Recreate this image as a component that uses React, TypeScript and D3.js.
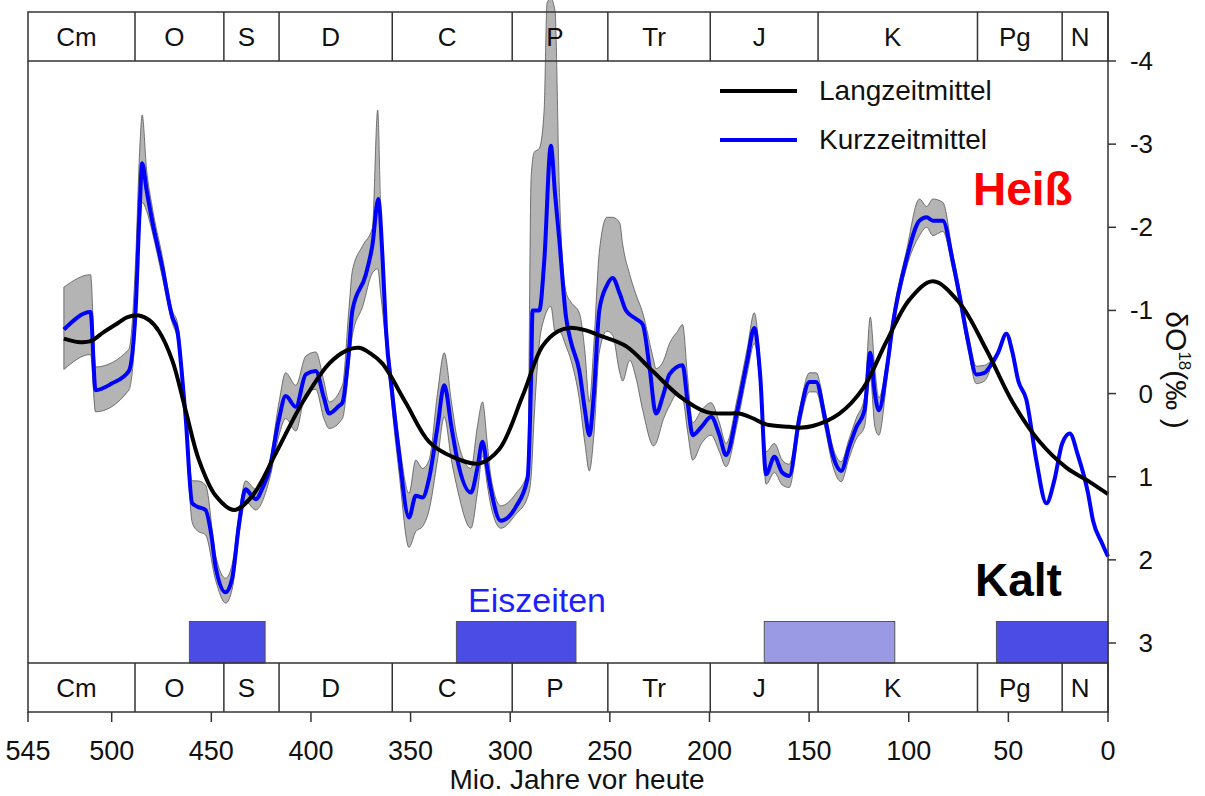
import * as d3 from 'd3';

// geologic periods (start age in Ma, the end is the next start)
const periodNames = ['Cm', 'O', 'S', 'D', 'C', 'P', 'Tr', 'J', 'K', 'Pg', 'N'];
const periodStarts = [542, 488.3, 443.7, 416, 359.2, 299, 251, 199.6, 145.5, 65.5, 23];

const xTicks = [545, 500, 450, 400, 350, 300, 250, 200, 150, 100, 50, 0];
const yTicks = [-4, -3, -2, -1, 0, 1, 2, 3];

// Kurzzeitmittel (blue)
const shortAge = [
  524, 510.6, 508.1, 500, 491.4, 488, 486, 484.7, 482.5, 479.7, 474.6, 469.6, 467, 465, 462.9,
  459.6, 457, 452.9, 450, 447.8, 442.8, 439.5, 436.1, 432.8, 430, 427.7, 424, 421, 416, 412.7,
  407.6, 402.6, 397.6, 393.5, 390.9, 386, 384.2, 381, 379.2, 372.5, 369.2, 366.2, 364, 362.4,
  359.2, 355.8, 350.8, 347.4, 344, 340.7, 336.5, 333.1, 329.5, 326.5, 319.7, 316.5, 313.9, 311.5,
  309.7, 304.7, 297.1, 291.3, 289.5, 288.8, 285.4, 282.9, 279.6, 277.5, 275.4, 272, 269.5, 265.3,
  262.5, 260.3, 258, 255.3, 251.5, 248.6, 245, 241.9, 237, 233.5, 230, 226.9, 223, 220.1, 213.5,
  211, 208.4, 204, 199.2, 195, 191.7, 186, 181, 177.5, 174.5, 171.6, 167.4, 163.5, 160, 154.8,
  149.8, 146.5, 142, 138, 133.9, 130, 126.4, 122.2, 119.3, 117, 115, 111, 108, 101.3, 94.6, 91,
  87.9, 82.9, 78, 74.5, 70, 66.1, 62, 59.4, 55, 51, 48, 45, 41, 36, 30.9, 27, 23, 19.2, 15, 10,
  7.5, 3, 0,
];
const shortMean = [
  -0.77, -0.98, -0.04, -0.12, -0.27, -1.0, -2.2, -2.77, -2.45, -2.08, -1.52, -0.92, -0.75, -0.3, 0.28,
  1.32, 1.36, 1.4, 1.7, 2.09, 2.39, 2.22, 1.57, 1.15, 1.22, 1.27, 1.12, 0.93, 0.3, 0.03,
  0.16, -0.23, -0.27, 0.05, 0.24, 0.15, 0.11, -0.5, -1.0, -1.43, -1.78, -2.34, -1.6, -0.79,
  0, 0.72, 1.49, 1.23, 1.25, 1.02, 0.4, -0.1, 0.4, 0.8, 1.19, 0.9, 0.58, 0.9,
  1.15, 1.53, 1.36, 1.02, -0.2, -1.0, -1.0, -1.6, -2.98, -2.4, -1.86, -0.92, -0.62, -0.27,
  0.2, 0.5, 0.0, -1.0, -1.3, -1.39, -1.2, -1.0, -0.9, -0.83, -0.3, 0.24, 0.0, -0.23, -0.34,
  0.1, 0.5, 0.4, 0.28, 0.5, 0.74, 0.2, -0.4, -0.79, -0.2, 0.97, 0.76, 0.95, 0.99, 0.28,
  -0.14, -0.14, 0.3, 0.75, 0.93, 0.65, 0.41, 0.2, -0.49, 0.0, 0.2, -0.3, -0.83, -1.6, -2.08, -2.12,
  -2.08, -2.08, -1.6, -1.18, -0.6, -0.23, -0.25, -0.32, -0.5, -0.72, -0.5, -0.15, 0.07, 0.8, 1.32, 1.05, 0.6, 0.48, 0.75, 1.2,
  1.53, 1.8, 1.96,
];

// uncertainty band round the short-term mean
const bandAge = [
  524, 510.6, 508.1, 491.4, 488, 486, 484.7, 482.5, 479.7, 474.6, 469.6, 467, 462.9, 459.6, 457,
  452.9, 447.8, 442.8, 439.5, 436.1, 432.8, 427.7, 421, 416, 412.7, 407.6, 402.6, 397.6, 393.5,
  390.9, 384.2, 381, 379.2, 374, 369.2, 366.5, 365, 362.4, 359.2, 355.8, 350.8, 347.4, 344, 340.7,
  336.5, 333.1, 329.5, 326.5, 319.7, 316.5, 313.9, 311.5, 309.7, 304.7, 297.1, 291.3, 289.5, 288,
  285.4, 283, 281.5, 279.6, 277.5, 275.4, 272, 269.5, 265.3, 262.5, 260.3, 258, 255.3, 251.5,
  248.6, 245, 243.6, 240, 237, 233.5, 228, 226.9, 223, 220.1, 216, 213.5, 211, 208.4, 204, 199.2,
  195, 191.7, 186, 181, 177.5, 174.5, 171.6, 167.4, 163.5, 160, 154.8, 149.8, 146.5, 142, 138,
  133.9, 130, 126.4, 122.2, 119.3, 117, 115, 111, 108, 101.3, 94.6, 91, 87.9, 82.9, 78, 74.5, 70,
  66.1, 62, 59.4,
];
const bandUpper = [
  -1.28, -1.43, -0.32, -0.53, -1.6, -2.9, -3.35, -2.7, -2.25, -1.65, -1.0, -0.85, 0.15, 1.05, 1.05,
  1.1, 1.95, 2.22, 2.05, 1.45, 1.05, 1.15, 0.85, 0.1, -0.25, -0.1, -0.45, -0.5, -0.15,
  0.1, -0.1, -1.0, -1.48, -1.78, -1.99, -3.41, -2.2, -0.95, -0.15, 0.55, 1.2, 0.8, 0.9, 0.8,
  0.0, -0.49, 0.1, 0.55, 0.9, 0.4, 0.1, 0.6, 1.0, 1.35, 1.2, 0.95, -2.6, -2.9,
  -2.95, -3.4, -4.7, -4.75, -4.6, -2.5, -1.22, -1.1, -0.97, -0.5, 0.1, -0.6, -1.7, -2.12,
  -2.12, -2.05, -1.8, -1.43, -1.2, -0.97, -0.4, -0.3, -0.4, -0.6, -0.75, -0.83, -0.2, 0.35, 0.2, 0.11,
  0.35, 0.6, 0.05, -0.55, -0.97, -0.35, 0.7, 0.6, 0.8, 0.85, 0.18, -0.25, -0.25, 0.2, 0.65,
  0.82, 0.55, 0.3, 0.05, -0.92, -0.3, 0.05, -0.4, -0.93, -1.7, -2.34, -2.25, -2.34, -2.3, -1.7, -1.27, -0.7,
  -0.33, -0.34, -0.38,
];
const bandLower = [
  -0.29, -0.47, 0.22, -0.04, -0.8, -1.9, -2.3, -2.2, -1.95, -1.4, -0.85, -0.65, 0.4, 1.55, 1.65,
  1.7, 2.25, 2.52, 2.35, 1.7, 1.3, 1.4, 1.05, 0.5, 0.3, 0.45, 0.0, -0.05, 0.3,
  0.42, 0.3, -0.3, -0.7, -1.05, -1.45, -1.5, -1.2, -0.6, 0.2, 0.95, 1.85, 1.66, 1.6, 1.4,
  0.8, 0.28, 0.8, 1.15, 1.62, 1.2, 0.75, 1.1, 1.35, 1.62, 1.45, 1.25, 1.0, 0.3,
  -0.6, -0.9, -1.0, -1.05, -0.75, -0.75, -0.57, -0.4, 0.07, 0.6, 0.93, 0.5, -0.5, -0.75,
  -0.7, -0.25, -0.15, -0.4, -0.2, 0.2, 0.63, 0.6, 0.3, 0.15, 0.0, 0.05, 0.45, 0.8, 0.6, 0.5,
  0.7, 0.88, 0.35, -0.25, -0.6, -0.05, 1.09, 0.95, 1.1, 1.13, 0.4, -0.02, -0.02, 0.42, 0.88,
  1.06, 0.78, 0.55, 0.4, -0.2, 0.4, 0.5, -0.15, -0.72, -1.5, -1.9, -2.0, -1.9, -1.95, -1.5, -1.08, -0.5,
  -0.12, -0.15, -0.27,
];

// Langzeitmittel (black)
const longAge = [
  524, 517, 510.6, 504, 498, 492, 486.3, 481, 476.3, 469.6, 462.9, 456.2, 447.8, 438.6, 429.4,
  417.7, 404.3, 390.9, 382, 375.8, 370, 364.1, 352.4, 340.7, 329, 315.6, 305.5, 293.8, 283.8,
  276, 270.4, 262, 255.3, 241.9, 228.5, 215.1, 201.7, 192, 185, 178, 171.6, 160, 154.8, 148.2,
  134.8, 123, 111.3, 99.6, 87.9, 74.5, 61.1, 47.7, 34.3, 20.9, 10, 0,
];
const longMean = [
  -0.66, -0.62, -0.63, -0.74, -0.83, -0.92, -0.94, -0.88, -0.75, -0.4, 0.2, 0.8, 1.23, 1.4, 1.23,
  0.72, 0.11, -0.36, -0.52, -0.55, -0.48, -0.36, 0.11, 0.58, 0.76, 0.84, 0.67, 0.03, -0.57,
  -0.75, -0.79, -0.76, -0.7, -0.57, -0.27, 0.03, 0.22, 0.24, 0.24, 0.3, 0.37, 0.4, 0.41, 0.39,
  0.24, -0.06, -0.62, -1.13, -1.35, -1.09, -0.53, 0.11, 0.58, 0.89, 1.05, 1.21,
];

// ice ages
const iceStart = [461, 327, 172.5, 56];
const iceEnd = [423, 267, 107, 0];
const iceWeak = [false, false, true, false];

const FONT = '"Liberation Sans", Arial, sans-serif';

export default function App() {
  const left = 28;
  const right = 1108;
  const plotTop = 61;
  const plotBottom = 663;
  const boxH = 49;

  const x = d3.scaleLinear().domain([542, 0]).range([left, right]).clamp(true);
  const y = d3.scaleLinear().domain([-4, 3]).range([plotTop, 643]);

  const shortPts = shortAge.map((a, i) => [a, shortMean[i]] as [number, number]);
  const longPts = longAge.map((a, i) => [a, longMean[i]] as [number, number]);
  const bandPts = bandAge.map((a, i) => ({ a, hi: bandUpper[i], lo: bandLower[i] }));

  const line = d3.line<[number, number]>()
    .x(d => x(d[0]))
    .y(d => y(d[1]))
    .curve(d3.curveMonotoneX);
  const smooth = d3.line<[number, number]>()
    .x(d => x(d[0]))
    .y(d => y(d[1]))
    .curve(d3.curveCatmullRom.alpha(0.5));
  const area = d3.area<{ a: number; hi: number; lo: number }>()
    .x(d => x(d.a))
    .y0(d => y(d.lo))
    .y1(d => y(d.hi))
    .curve(d3.curveMonotoneX);

  const periodEnds = periodStarts.map((_, i) => (i < periodStarts.length - 1 ? periodStarts[i + 1] : 0));

  const strat = (top: number) => (
    <g>
      <rect x={left} y={top} width={right - left} height={boxH} fill="none" stroke="#333" strokeWidth={1.5} />
      {periodNames.map((name, i) => {
        const x0 = x(periodStarts[i]);
        const x1 = x(periodEnds[i]);
        return (
          <g key={name}>
            {i > 0 && <line x1={x0} x2={x0} y1={top} y2={top + boxH} stroke="#333" strokeWidth={1.5} />}
            <text x={(x0 + x1) / 2 - 5} y={top + 34} textAnchor="middle" fontSize={26} fontFamily={FONT} fill="#111">
              {name}
            </text>
          </g>
        );
      })}
    </g>
  );

  return (
    <svg width={1205} height={796} style={{ position: 'absolute', left: 0, top: 0, background: '#fff' }}>
      {/* ice age bars */}
      {iceStart.map((s, i) => (
        <rect
          key={s}
          x={x(s)}
          y={621.5}
          width={x(iceEnd[i]) - x(s)}
          height={plotBottom - 621.5}
          fill={iceWeak[i] ? '#9a9ae4' : '#4b4be6'}
          stroke="#555"
          strokeWidth={1}
        />
      ))}

      {/* the band runs up through the top box at the Permian spike */}
      <path d={area(bandPts) ?? ''} fill="#b4b4b4" stroke="#555" strokeWidth={0.8} />
      <path d={line(shortPts) ?? ''} fill="none" stroke="#0000ff" strokeWidth={4} strokeLinejoin="round" />
      <path d={smooth(longPts) ?? ''} fill="none" stroke="#000" strokeWidth={4} strokeLinejoin="round" />

      {/* frame and period boxes */}
      {strat(12)}
      <line x1={left} x2={left} y1={plotTop} y2={plotBottom} stroke="#333" strokeWidth={1.5} />
      <line x1={right} x2={right} y1={12} y2={712} stroke="#333" strokeWidth={1.5} />
      {strat(plotBottom)}

      {/* x axis */}
      {xTicks.map(t => (
        <g key={t}>
          <line x1={x(t)} x2={x(t)} y1={712} y2={722} stroke="#333" strokeWidth={1.5} />
          <text x={x(t)} y={760} textAnchor="middle" fontSize={27} fontFamily={FONT} fill="#111">{t}</text>
        </g>
      ))}
      <text x={577} y={789} textAnchor="middle" fontSize={28} fontFamily={FONT} fill="#111">Mio. Jahre vor heute</text>

      {/* y axis */}
      {yTicks.map(t => (
        <g key={t}>
          <line x1={right} x2={right + 8} y1={y(t)} y2={y(t)} stroke="#333" strokeWidth={1.5} />
          <text x={1153} y={y(t) + 9} textAnchor="end" fontSize={26} fontFamily={FONT} fill="#111">{t}</text>
        </g>
      ))}
      <text transform="translate(1166,370) rotate(90)" textAnchor="middle" fontSize={30} fontFamily={FONT} fill="#111">
        δO<tspan fontSize={17} dy={-13}>18</tspan><tspan dy={13}>(‰ )</tspan>
      </text>

      {/* legend */}
      <line x1={720} x2={797} y1={91} y2={91} stroke="#000" strokeWidth={4} />
      <text x={819} y={100} fontSize={28} fontFamily={FONT} fill="#111">Langzeitmittel</text>
      <line x1={720} x2={797} y1={140} y2={140} stroke="#0000ff" strokeWidth={4} />
      <text x={819} y={149} fontSize={28} fontFamily={FONT} fill="#111">Kurzzeitmittel</text>

      <text x={973} y={205} fontSize={46} fontWeight="bold" fontFamily={FONT} fill="#ff0000">Heiß</text>
      <text x={975} y={596} fontSize={46} fontWeight="bold" fontFamily={FONT} fill="#000">Kalt</text>
      <text x={468} y={612} fontSize={34} fontFamily={FONT} fill="#1e1eff">Eiszeiten</text>
    </svg>
  );
}
